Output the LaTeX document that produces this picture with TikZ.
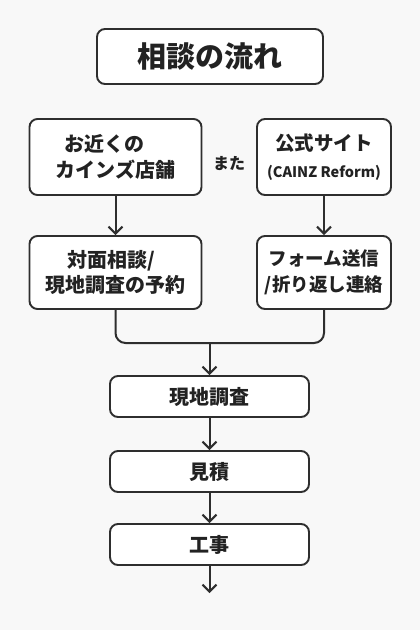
\documentclass[tikz,border=0pt]{standalone}
\usepackage{fontspec}
\setmainfont{Noto Sans CJK JP}
\usetikzlibrary{arrows.meta}
\definecolor{bg}{HTML}{F8F8F8}
\definecolor{lc}{HTML}{2E2E2E}
\definecolor{tc}{HTML}{222222}
\begin{document}
\begin{tikzpicture}[x=1pt,y=-1pt,
  box/.style={draw=lc, line width=1.9pt, rounded corners=8pt, fill=white, align=center, inner sep=0pt, text=tc, font=\bfseries\fontsize{20}{25.5}\selectfont},
  conn/.style={draw=lc, line width=2pt, -{Straight Barb[length=7pt,width=14pt]}},
  mergeline/.style={draw=lc, line width=2pt, rounded corners=10pt}]
\fill[bg] (0,0) rectangle (420,630);
\node[box, minimum width=226pt, minimum height=55pt, font=\bfseries\fontsize{29}{34}\selectfont] (title) at (210,56.5) {相談の流れ};
\node[box, minimum width=172pt, minimum height=76pt] (l1) at (115.5,157) {お近くの\hspace*{22pt}\\カインズ店舗};
\node[box, minimum width=134pt, minimum height=76pt, font=\bfseries\fontsize{19.5}{27}\selectfont] (r1) at (324,157) {公式サイト\\{\fontsize{14.5}{17}\selectfont (CAINZ Reform)}};
\node[text=tc, font=\bfseries\fontsize{16}{20}\selectfont, inner sep=0pt] (mata) at (229,164) {また};
\node[box, minimum width=172pt, minimum height=73pt] (l2) at (115.5,272.5) {対面相談/\hspace*{8pt}\\現地調査の予約};
\node[box, minimum width=134pt, minimum height=73pt, font=\bfseries\fontsize{18.5}{26}\selectfont] (r2) at (324,272.5) {フォーム送信\\/折り返し連絡};
\node[box, minimum width=199pt, minimum height=41pt] (s1) at (209.5,396.5) {現地調査};
\node[box, minimum width=199pt, minimum height=41pt] (s2) at (209.5,471.5) {見積};
\node[box, minimum width=199pt, minimum height=41pt] (s3) at (209.5,544.5) {工事};
\coordinate (m) at (209.5,343);
\coordinate (end) at (209.5,593);
\draw[conn] (l1) -- (l2);
\draw[conn] (r1) -- (r2);
\draw[mergeline] (l2.south) -- (l2.south |- m) -- (r2.south |- m) -- (r2.south);
\draw[conn] (m) -- (s1);
\draw[conn] (s1) -- (s2);
\draw[conn] (s2) -- (s3);
\draw[conn] (s3) -- (end);
\end{tikzpicture}
\end{document}
